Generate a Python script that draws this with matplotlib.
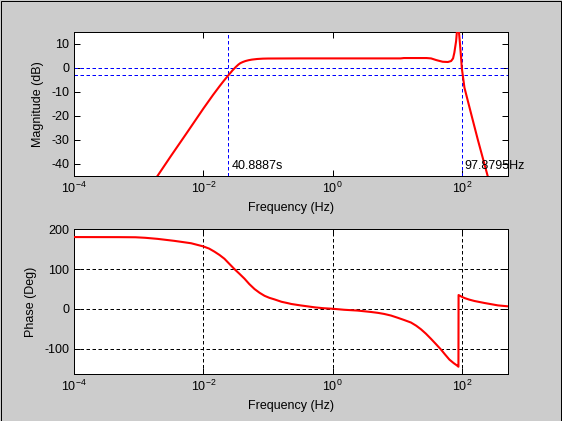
import numpy as np
import matplotlib
matplotlib.use('Agg')
import matplotlib.pyplot as plt
from matplotlib.patches import Rectangle
from matplotlib.ticker import NullLocator, FixedLocator

plt.rcParams['font.family'] = ['Liberation Sans', 'DejaVu Sans']
plt.rcParams['font.size'] = 9
plt.rcParams['axes.unicode_minus'] = False

# ---- data ----
mag_logf = [-2.72, -2.5, -2.25, -2.0, -1.85, -1.75, -1.68, -1.612, -1.55, -1.5,
            -1.46, -1.43, -1.39, -1.35, -1.3, -1.25, -1.17, -1.08, -1.0, -0.5,
            0.0, 0.5, 1.05, 1.1, 1.45, 1.52, 1.6, 1.7, 1.78, 1.83, 1.86, 1.88,
            1.907, 1.935, 1.964, 1.984, 1.995, 2.01, 2.036, 2.15, 2.243, 2.40]
mag_db = [-45.4, -36.6, -26.8, -16.9, -11.2, -7.6, -5.2, -3.0, -1.0, 0.4,
          1.4, 2.0, 2.5, 2.9, 3.25, 3.5, 3.75, 3.9, 3.95, 4.0,
          4.0, 4.0, 4.0, 4.15, 4.15, 4.0, 3.3, 2.6, 2.5, 2.9, 4.0, 6.4,
          11.2, 20.0, 11.0, 4.3, 0.0, -3.0, -8.2, -20.2, -29.9, -45.5]

phase_logf = [-4.0, -3.3, -3.05, -2.9, -2.709, -2.45, -2.19, -2.0, -1.91, -1.83,
              -1.75, -1.674, -1.6, -1.519, -1.44, -1.364, -1.29, -1.209, -1.13,
              -1.054, -0.98, -0.9, -0.791, -0.7, -0.64, -0.5, -0.4, -0.274,
              -0.15, 0.0, 0.175, 0.383, 0.589, 0.7, 0.795, 0.9, 1.003, 1.1,
              1.209, 1.29, 1.364, 1.44, 1.519, 1.6, 1.674, 1.74, 1.803, 1.87,
              1.922, 1.943, 1.945, 1.99, 2.036, 2.11, 2.191, 2.346, 2.553, 2.75]
phase_deg = [180.5, 180.3, 180.0, 178.7, 176.0, 171.0, 165.0, 157.0, 151.5, 144.0,
             135.5, 126.0, 113.5, 100.0, 88.0, 76.0, 62.5, 50.0, 40.5,
             33.0, 28.0, 24.0, 18.0, 14.8, 12.5, 9.0, 6.8, 4.0,
             2.0, 0.5, -2.0, -4.0, -7.5, -9.8, -12.5, -16.5, -22.0, -27.5,
             -34.0, -42.0, -51.0, -62.0, -75.0, -89.0, -102.0, -115.0, -127.0, -136.0,
             -142.0, -145.0, 35.0, 31.0, 27.5, 23.5, 20.0, 15.0, 9.0, 6.0]

low_corner_s = 40.8887
high_corner_hz = 97.8795
level_lines_db = [0, -3]

x_ticks = [1e-4, 1e-2, 1e0, 1e2]
mag_ticks = [-40, -30, -20, -10, 0, 10]
phase_ticks = [-100, 0, 100, 200]
x_limits = (1e-4, 512)
mag_limits = (-45, 15)
phase_limits = (-164, 200)

mag_f = 10 ** np.array(mag_logf)
phase_f = 10 ** np.array(phase_logf)

W, H = 562, 421
fig = plt.figure(figsize=(W / 100, H / 100), dpi=100, facecolor='#cccccc')
ax1 = fig.add_axes([74 / W, 1 - 176 / H, 434 / W, 144 / H])
ax2 = fig.add_axes([74 / W, 1 - 374.3 / H, 434 / W, 145 / H])

dash = (0, (3.5, 2.5))

for ax in (ax1, ax2):
    ax.set_facecolor('white')
    ax.set_xscale('log')
    ax.set_xlim(*x_limits)
    ax.xaxis.set_major_locator(FixedLocator(x_ticks))
    ax.xaxis.set_minor_locator(NullLocator())
    ax.tick_params(direction='in', length=4, width=0.72, top=True, right=True,
                   pad=3.5, labelsize=9, colors='black')
    for s in ax.spines.values():
        s.set_linewidth(0.72)
        s.set_color('black')

# Magnitude
ax1.plot(mag_f, mag_db, color='#ff0000', lw=1.5, zorder=3)
for lv in level_lines_db:
    ax1.axhline(lv, color='#0000ff', lw=0.72, ls=dash, zorder=2)
ax1.axvline(1 / low_corner_s, color='#0000ff', lw=0.72, ls=dash, zorder=2)
ax1.axvline(high_corner_hz, color='#0000ff', lw=0.72, ls=dash, zorder=2)
ax1.set_ylim(*mag_limits)
ax1.set_yticks(mag_ticks)
ax1.annotate(f'{low_corner_s:.4f}s', xy=(1 / low_corner_s, -42.1), xytext=(3, 0),
             textcoords='offset pixels', ha='left', va='baseline', fontsize=9)
ax1.annotate(f'{high_corner_hz:.4f}Hz', xy=(high_corner_hz, -42.1), xytext=(3, 0),
             textcoords='offset pixels', ha='left', va='baseline', fontsize=9,
             annotation_clip=False)
ax1.set_ylabel('Magnitude (dB)')
ax1.yaxis.set_label_coords(-0.069, 0.5)
ax1.set_xlabel('Frequency (Hz)')
ax1.xaxis.set_label_coords(0.5, -0.181)

# Phase
ax2.plot(phase_f, phase_deg, color='#ff0000', lw=1.5, zorder=3)
ax2.set_ylim(*phase_limits)
ax2.set_yticks(phase_ticks)
ax2.grid(True, color='black', lw=0.72, ls=dash)
ax2.set_axisbelow(True)
ax2.set_ylabel('Phase (Deg)')
ax2.yaxis.set_label_coords(-0.0853, 0.5)
ax2.set_xlabel('Frequency (Hz)')
ax2.xaxis.set_label_coords(0.5, -0.177)

# figure border
fig.add_artist(Rectangle((0.5 / W, 0.5 / H), 560 / W, 420 / H, transform=fig.transFigure,
                         fill=False, edgecolor='black', lw=0.72))

fig.savefig('out.png', dpi=100, facecolor=fig.get_facecolor())
